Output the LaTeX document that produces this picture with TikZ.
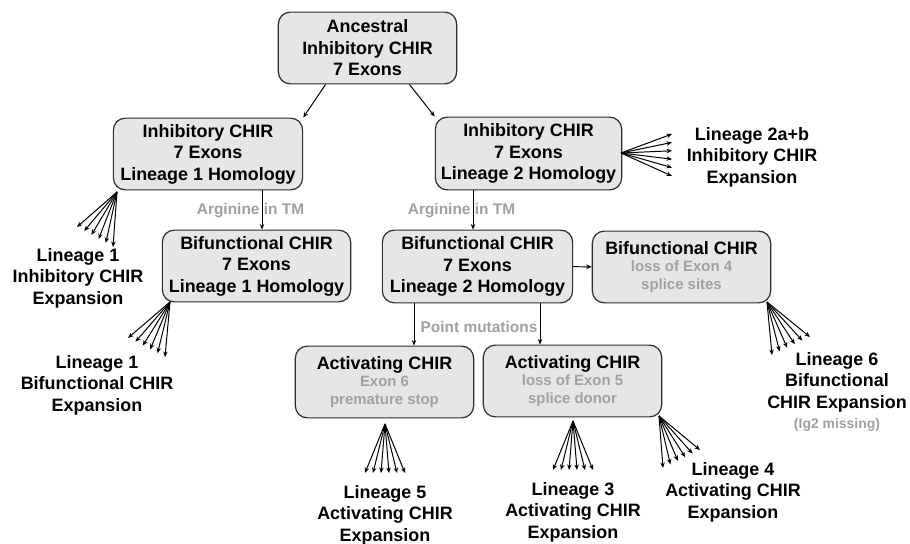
\documentclass[tikz,border=0pt]{standalone}
\usepackage{fontspec}
\setmainfont{Liberation Sans}
\usetikzlibrary{arrows.meta,calc}

\definecolor{boxfill}{RGB}{230,230,230}
\definecolor{boxline}{RGB}{45,45,45}
\definecolor{subgray}{RGB}{160,160,160}

\newcommand{\mainsize}{\fontsize{18}{21.5}\selectfont\bfseries}
\newcommand{\subsize}{\fontsize{15}{17}\selectfont\bfseries\color{subgray}}
\newcommand{\notesize}{\fontsize{15.5}{18}\selectfont\bfseries}
% six arrows from one point to a row of tips
\newcommand{\fan}[3]{\foreach \k in {0,...,5} {\draw[arr] (#1) -- ($(#2)!\k/5!(#3)$);}}

\tikzset{
  chirbox/.style={draw=boxline, line width=1.2pt, fill=boxfill, rounded corners=12pt,
    align=center, font=\mainsize, inner sep=0pt},
  arr/.style={-{Stealth[length=5.5pt,width=4.5pt]}, line width=1pt},
  lintxt/.style={align=center, font=\mainsize},
  note/.style={font=\notesize, text=subgray},
}

\begin{document}
\begin{tikzpicture}[x=1bp,y=-1bp]
\useasboundingbox (0,0) rectangle (910,544);

% boxes
\node[chirbox, minimum width=179, minimum height=72] (anc) at (367.5,48) {Ancestral\\Inhibitory CHIR\\7 Exons};
\node[chirbox, minimum width=190, minimum height=72] (inhA) at (208,154) {Inhibitory CHIR\\7 Exons\\Lineage 1 Homology};
\node[chirbox, minimum width=187, minimum height=73] (inhB) at (528.5,153.5) {Inhibitory CHIR\\7 Exons\\Lineage 2 Homology};
\node[chirbox, minimum width=189, minimum height=72] (bifA) at (256.5,266) {Bifunctional CHIR\\7 Exons\\Lineage 1 Homology};
\node[chirbox, minimum width=191, minimum height=73] (bifB) at (477.5,266.5) {Bifunctional CHIR\\7 Exons\\Lineage 2 Homology};
\node[chirbox, minimum width=179, minimum height=72] (bifC) at (681.5,267) {Bifunctional CHIR\\[-4pt]{\subsize loss of Exon 4}\\[-4pt]{\subsize splice sites}};
\node[chirbox, minimum width=179, minimum height=72] (actA) at (384.5,382) {Activating CHIR\\[-4pt]{\subsize Exon 6}\\[-4pt]{\subsize premature stop}};
\node[chirbox, minimum width=179, minimum height=72] (actB) at (572.5,381) {Activating CHIR\\[-4pt]{\subsize loss of Exon 5}\\[-4pt]{\subsize splice donor}};

% steps between boxes
\draw[arr] (anc.221) -- (inhA.north east);
\draw[arr] (anc.319) -- (inhB.north west);
\coordinate (argA) at (262,0);
\coordinate (argB) at (473,0);
\node[note] (argtxtA) at (250.5,211) {Arginine in TM};
\node[note] (argtxtB) at (461.5,211) {Arginine in TM};
\draw[arr] (inhA.south -| argA) -- (bifA.north -| argA);
\draw[arr] (inhB.south -| argB) -- (bifB.north -| argB);
\draw[arr] (bifB) -- (bifC);
\coordinate (pmA) at (414,0);
\coordinate (pmB) at (540,0);
\node[note] (pmtxt) at (479,327) {Point mutations};
\draw[arr] (bifB.south -| pmA) -- (actA.north -| pmA);
\draw[arr] (bifB.south -| pmB) -- (actB.north -| pmB);

% expansions
\coordinate (oInhA) at (117,192); \coordinate (tInhA1) at (77,227); \coordinate (tInhA2) at (113,247);
\coordinate (oBifA) at (170,302); \coordinate (tBifA1) at (128,338); \coordinate (tBifA2) at (165,357);
\coordinate (oInhB) at (621,153); \coordinate (tInhB1) at (672,134); \coordinate (tInhB2) at (672,176);
\coordinate (oActA) at (385,424); \coordinate (tActA1) at (365,473); \coordinate (tActA2) at (405,473);
\coordinate (oActB) at (573,421); \coordinate (tActB1) at (553,470); \coordinate (tActB2) at (593,470);
\coordinate (oActC) at (659,416); \coordinate (tActC1) at (663,468); \coordinate (tActC2) at (700,450);
\coordinate (oBifC) at (767,302); \coordinate (tBifC1) at (772,355); \coordinate (tBifC2) at (810,337);
\fan{oInhA}{tInhA1}{tInhA2}
\fan{oBifA}{tBifA1}{tBifA2}
\fan{oInhB}{tInhB1}{tInhB2}
\fan{oActA}{tActA1}{tActA2}
\fan{oActB}{tActB1}{tActB2}
\fan{oActC}{tActC1}{tActC2}
\fan{oBifC}{tBifC1}{tBifC2}

\node[lintxt] (linInhA) at (78,278) {Lineage 1\\Inhibitory CHIR\\Expansion};
\node[lintxt] (linBifA) at (97,385) {Lineage 1\\Bifunctional CHIR\\Expansion};
\node[lintxt] (linInhB) at (752,157) {Lineage 2a+b\\Inhibitory CHIR\\Expansion};
\node[lintxt] (linActA) at (385,515) {Lineage 5\\Activating CHIR\\Expansion};
\node[lintxt] (linActB) at (573,512) {Lineage 3\\Activating CHIR\\Expansion};
\node[lintxt] (linActC) at (733,492) {Lineage 4\\Activating CHIR\\Expansion};
\node[lintxt] (linBifC) at (837,382) {Lineage 6\\Bifunctional\\CHIR Expansion};
\node[font=\fontsize{14}{16}\selectfont\bfseries, text=subgray] (igtxt) at (837,425) {(Ig2 missing)};
\end{tikzpicture}
\end{document}
